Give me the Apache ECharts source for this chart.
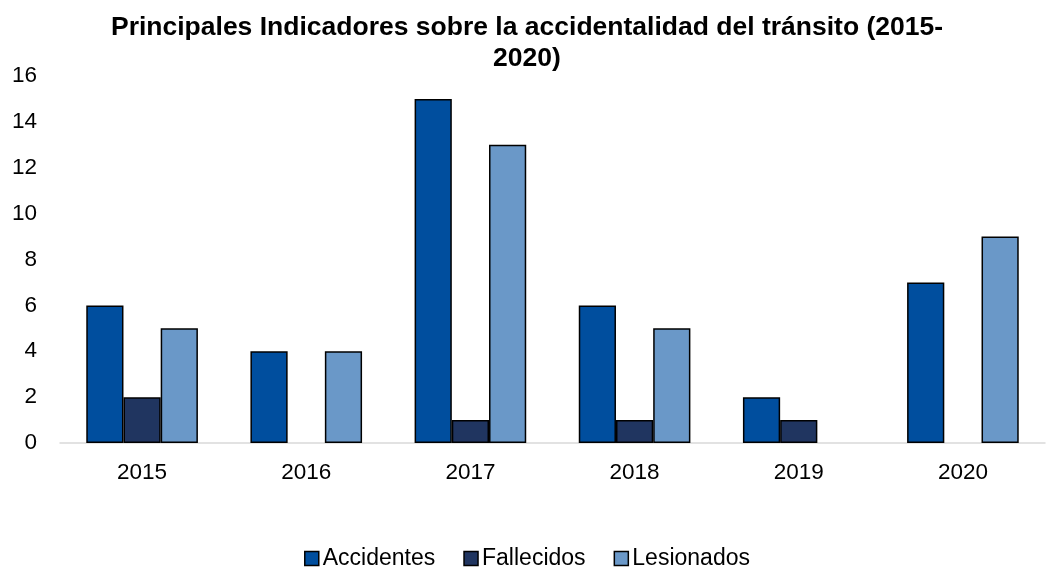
<!DOCTYPE html>
<html><head><meta charset="utf-8">
<script src="https://cdn.jsdelivr.net/npm/echarts@6/dist/echarts.min.js"></script>
<style>html,body{margin:0;padding:0;background:#fff}#c{width:1054px;height:569px}</style>
</head><body><div id="c"></div>
<script>
const categories = ['2015','2016','2017','2018','2019','2020'];
const accidentes = [6,4,15,6,2,7];
const fallecidos = [2,0,1,1,1,0];
const lesionados = [5,4,13,5,0,9];
const yTicks = [0,16,2];
const titleText = 'Principales Indicadores sobre la accidentalidad del tránsito (2015-\n2020)';

const font = 'Liberation Sans, Arial, sans-serif';
const chart = echarts.init(document.getElementById('c'));
function mk(name, data, color){
  return {name, type:'bar', data: data.map(v=>v===0?null:v), barGap:'0%', barCategoryGap:'32%',
    itemStyle:{color, borderColor:'#000', borderWidth:1.5}};
}
chart.setOption({
  animation:false,
  title:{text:titleText,left:'center',top:7,textStyle:{fontFamily:font,fontSize:26.5,fontWeight:'bold',color:'#000',lineHeight:31}},
  grid:{left:60,right:9,top:76,bottom:126},
  legend:{top:542,left:'center',itemWidth:14,itemHeight:14,itemGap:28,icon:'rect',
    textStyle:{fontFamily:font,fontSize:23,color:'#000',padding:[0,0,0,-1]},
    data:['Accidentes','Fallecidos','Lesionados'].map(n=>({name:n,itemStyle:{borderColor:'#000',borderWidth:1.5}}))},
  xAxis:{type:'category',data:categories,axisTick:{show:false},
    axisLine:{lineStyle:{color:'#d9d9d9',width:1.5}},
    axisLabel:{fontFamily:font,fontSize:22.5,color:'#000',margin:18}},
  yAxis:{type:'value',min:yTicks[0],max:yTicks[1],interval:yTicks[2],splitLine:{show:false},
    axisLine:{show:false},axisTick:{show:false},
    axisLabel:{fontFamily:font,fontSize:22.5,color:'#000',margin:23}},
  series:[mk('Accidentes',accidentes,'#004E9E'),mk('Fallecidos',fallecidos,'#203560'),mk('Lesionados',lesionados,'#6A98C8')]
});
</script></body></html>
